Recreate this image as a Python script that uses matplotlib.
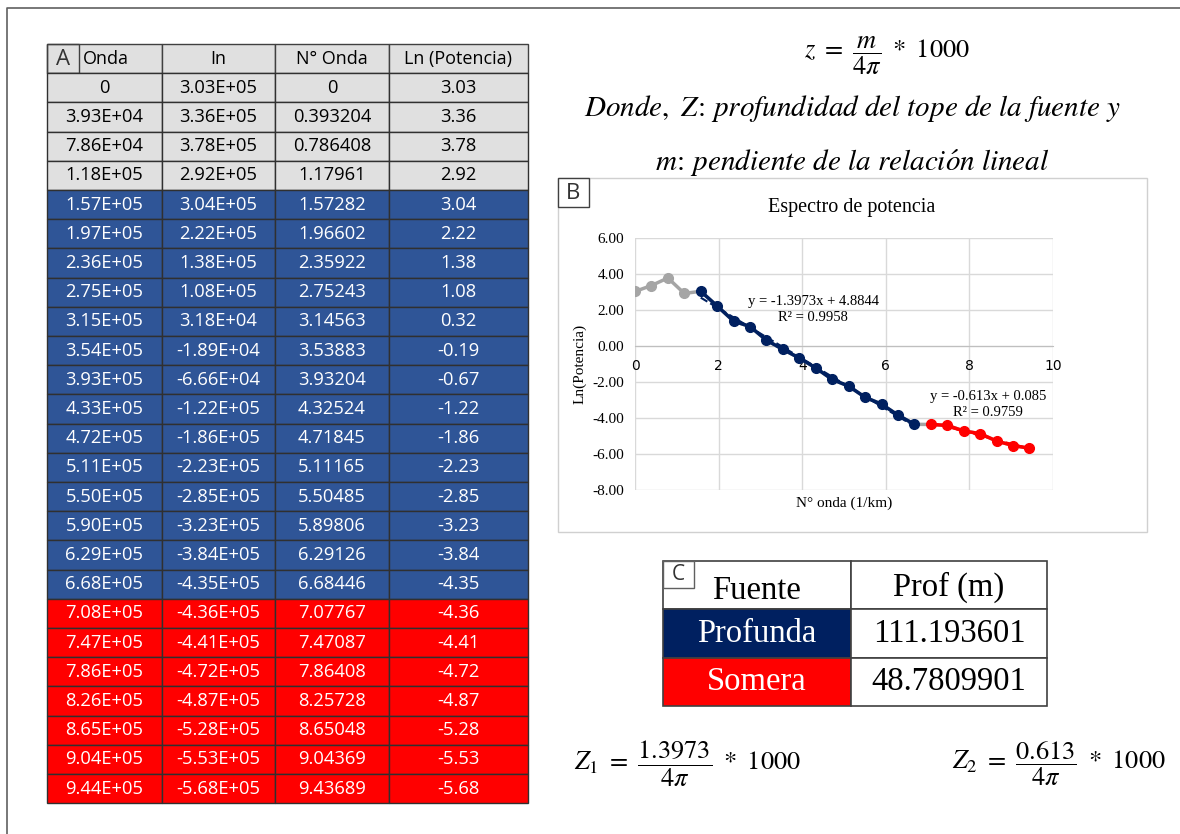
import matplotlib
matplotlib.use("Agg")
import matplotlib.pyplot as plt
from matplotlib.patches import Rectangle
import numpy as np

plt.rcParams['mathtext.fontset'] = 'stix'

# datos tabla A
onda = [0, 3.93e4, 7.86e4, 1.18e5, 1.57e5, 1.97e5, 2.36e5, 2.75e5, 3.15e5, 3.54e5, 3.93e5,
        4.33e5, 4.72e5, 5.11e5, 5.50e5, 5.90e5, 6.29e5, 6.68e5, 7.08e5, 7.47e5, 7.86e5,
        8.26e5, 8.65e5, 9.04e5, 9.44e5]
In = [3.03e5, 3.36e5, 3.78e5, 2.92e5, 3.04e5, 2.22e5, 1.38e5, 1.08e5, 3.18e4, -1.89e4, -6.66e4,
      -1.22e5, -1.86e5, -2.23e5, -2.85e5, -3.23e5, -3.84e5, -4.35e5, -4.36e5, -4.41e5, -4.72e5,
      -4.87e5, -5.28e5, -5.53e5, -5.68e5]
n_onda = [0, 0.393204, 0.786408, 1.17961, 1.57282, 1.96602, 2.35922, 2.75243, 3.14563, 3.53883,
          3.93204, 4.32524, 4.71845, 5.11165, 5.50485, 5.89806, 6.29126, 6.68446, 7.07767,
          7.47087, 7.86408, 8.25728, 8.65048, 9.04369, 9.43689]
ln_pot = [3.03, 3.36, 3.78, 2.92, 3.04, 2.22, 1.38, 1.08, 0.32, -0.19, -0.67, -1.22, -1.86, -2.23,
          -2.85, -3.23, -3.84, -4.35, -4.36, -4.41, -4.72, -4.87, -5.28, -5.53, -5.68]
grupo = ['gris'] * 4 + ['profunda'] * 14 + ['somera'] * 7
encabezados = ['Onda', 'In', 'N° Onda', 'Ln (Potencia)']

# ajustes lineales (Excel)
m1, b1, r2_1 = -1.3973, 4.8844, 0.9958
m2, b2, r2_2 = -0.613, 0.085, 0.9759

# tabla C
fuentes = ['Profunda', 'Somera']
prof = ['111.193601', '48.7809901']

GRIS = '#a5a5a5'
NAVY = '#002060'
AZUL = '#2f5597'
ROJO = '#ff0000'

fig = plt.figure(figsize=(11.8, 8.34), dpi=100)
ax0 = fig.add_axes([0, 0, 1, 1])
ax0.set_xlim(0, 1180)
ax0.set_ylim(834, 0)
ax0.axis('off')

# marco exterior
ax0.plot([7, 7, 1180], [834, 8, 8], color='#606060', lw=1.2)

# ---- tabla A ----
xs = [47, 162, 275, 389, 528]
y0, h = 44, 29.2
fondo = {'gris': '#e0e0e0', 'profunda': AZUL, 'somera': ROJO}
for j in range(4):
    ax0.add_patch(Rectangle((xs[j], y0), xs[j + 1] - xs[j], h, fc='#e0e0e0', ec='#404040', lw=1))
ax0.add_patch(Rectangle((47, y0), 32, h, fc='none', ec='#404040', lw=1))
ax0.text(63, y0 + h / 2 + 1, 'A', ha='center', va='center', fontsize=16, family='Open Sans', color='#333333')
ax0.text(83, y0 + h / 2, encabezados[0], ha='left', va='center', fontsize=13, family='Open Sans')
for j in range(1, 4):
    ax0.text((xs[j] + xs[j + 1]) / 2, y0 + h / 2, encabezados[j], ha='center', va='center',
             fontsize=13, family='Open Sans')

def fmt_e(v):
    return '0' if v == 0 else '{:.2E}'.format(v)

for i in range(len(onda)):
    yt = y0 + h * (i + 1)
    g = grupo[i]
    col_txt = 'black' if g == 'gris' else 'white'
    vals = [fmt_e(onda[i]), fmt_e(In[i]), '{:.6g}'.format(n_onda[i]), '{:.2f}'.format(ln_pot[i])]
    for j in range(4):
        ax0.add_patch(Rectangle((xs[j], yt), xs[j + 1] - xs[j], h, fc=fondo[g], ec='#303030', lw=1))
        ax0.text((xs[j] + xs[j + 1]) / 2, yt + h / 2, vals[j], ha='center', va='center',
                 fontsize=13.2, family='Open Sans', color=col_txt)

# ---- formulas ----
ax0.text(887, 56, r'$z\ =\ \dfrac{m}{4\pi}\ *\ 1000$', ha='center', va='center', fontsize=19)
ax0.text(852, 108, r'$Donde,\ Z\!:\,profundidad\ del\ tope\ de\ la\ fuente\ y$',
         ha='center', va='center', fontsize=21)
ax0.text(852, 163, r'$m\!:\,pendiente\ de\ la\ relaci\acute{o}n\ lineal$',
         ha='center', va='center', fontsize=21)
ax0.text(688, 764, r'$Z_1\ =\ \dfrac{1.3973}{4\pi}\ *\ 1000$', ha='center', va='center', fontsize=19)
ax0.text(1059, 764, r'$Z_2\ =\ \dfrac{0.613}{4\pi}\ *\ 1000$', ha='center', va='center', fontsize=19)

# ---- grafico B ----
ax0.add_patch(Rectangle((558, 178), 589, 354, fc='white', ec='#d0d0d0', lw=1))
ax0.add_patch(Rectangle((558, 178), 31, 29, fc='white', ec='#404040', lw=1))
ax0.text(573.5, 193, 'B', ha='center', va='center', fontsize=16, family='Open Sans', color='#333333')
ax0.text(852, 207, 'Espectro de potencia', ha='center', va='center', fontsize=14.5,
         family='Liberation Serif')

ax = fig.add_axes([635 / 1180, (834 - 490) / 834, 418 / 1180, 252 / 834])
ax.set_facecolor('none')
x = np.array(n_onda)
y = np.array(ln_pot)
g = np.array(grupo)
ax.plot(x, y, color=GRIS, lw=2.5, zorder=2)
ax.plot(x[g == 'gris'], y[g == 'gris'], 'o', color=GRIS, ms=7, zorder=3)
ax.plot(x[g == 'profunda'], y[g == 'profunda'], '-o', color=NAVY, lw=2.5, ms=7, zorder=3)
ax.plot(x[g == 'somera'], y[g == 'somera'], '-o', color=ROJO, lw=2.5, ms=7, zorder=3)
xp = x[g == 'profunda']
xs_ = x[g == 'somera']
ax.plot(xp, m1 * xp + b1, '--', color=NAVY, lw=1.5, zorder=4)
ax.plot(xs_, m2 * xs_ + b2, '--', color=ROJO, lw=1.5, zorder=4)

ax.set_xlim(0, 10)
ax.set_ylim(-8, 6)
ax.set_xticks(range(0, 11, 2))
ax.set_yticks(range(-8, 7, 2))
ax.set_yticklabels(['{:.2f}'.format(v) for v in range(-8, 7, 2)], family='Liberation Serif', fontsize=11)
ax.set_xticklabels([str(v) for v in range(0, 11, 2)], family='Liberation Serif', fontsize=11)
ax.grid(True, color='#d9d9d9', lw=1)
for s in ['top', 'right', 'left']:
    ax.spines[s].set_visible(False)
ax.spines['bottom'].set_position(('data', 0))
ax.spines['bottom'].set_color('#bfbfbf')
ax.tick_params(axis='x', length=0, pad=9)
ax.tick_params(axis='y', length=0, pad=8)
ax.set_axisbelow(True)
ax.set_ylabel('Ln(Potencia)', family='Liberation Serif', fontsize=11, labelpad=4)
ax.text(5, -8.72, 'N° onda (1/km)', ha='center', va='center', family='Liberation Serif', fontsize=11)
ax.text(4.26, 2.5, 'y = {}x + {}'.format(m1, b1), ha='center', va='center',
        family='Liberation Serif', fontsize=10.5)
ax.text(4.26, 1.56, 'R² = {}'.format(r2_1), ha='center', va='center', family='Liberation Serif', fontsize=10.5)
ax.text(8.45, -2.83, 'y = {}x + {}'.format(m2, b2), ha='center', va='center',
        family='Liberation Serif', fontsize=10.5)
ax.text(8.45, -3.72, 'R² = {}'.format(r2_2), ha='center', va='center', family='Liberation Serif', fontsize=10.5)

# ---- tabla C ----
cx = [663, 851, 1047]
cy = [561, 609, 658, 706]
ax0.add_patch(Rectangle((cx[0], cy[0]), cx[1] - cx[0], cy[1] - cy[0], fc='white', ec='#404040', lw=1.2))
ax0.add_patch(Rectangle((cx[1], cy[0]), cx[2] - cx[1], cy[1] - cy[0], fc='white', ec='#404040', lw=1.2))
ax0.add_patch(Rectangle((663, 561), 31, 27, fc='white', ec='#606060', lw=1))
ax0.text(678.5, 574, 'C', ha='center', va='center', fontsize=15, family='Open Sans', color='#333333')
ax0.text(757, 591, 'Fuente', ha='center', va='center', fontsize=23.5, family='Liberation Serif')
ax0.text(949, 587, 'Prof (m)', ha='center', va='center', fontsize=23.5, family='Liberation Serif')
colores_c = [NAVY, ROJO]
for i in range(2):
    ax0.add_patch(Rectangle((cx[0], cy[i + 1]), cx[1] - cx[0], cy[i + 2] - cy[i + 1],
                            fc=colores_c[i], ec='#404040', lw=1.2))
    ax0.add_patch(Rectangle((cx[1], cy[i + 1]), cx[2] - cx[1], cy[i + 2] - cy[i + 1],
                            fc='white', ec='#404040', lw=1.2))
    ym = (cy[i + 1] + cy[i + 2]) / 2
    ax0.text(757, ym, fuentes[i], ha='center', va='center', fontsize=23.5, family='Liberation Serif',
             color='white')
    ax0.text(949, ym, prof[i], ha='center', va='center', fontsize=23.5, family='Liberation Serif')

fig.savefig('out.png', dpi=100)
